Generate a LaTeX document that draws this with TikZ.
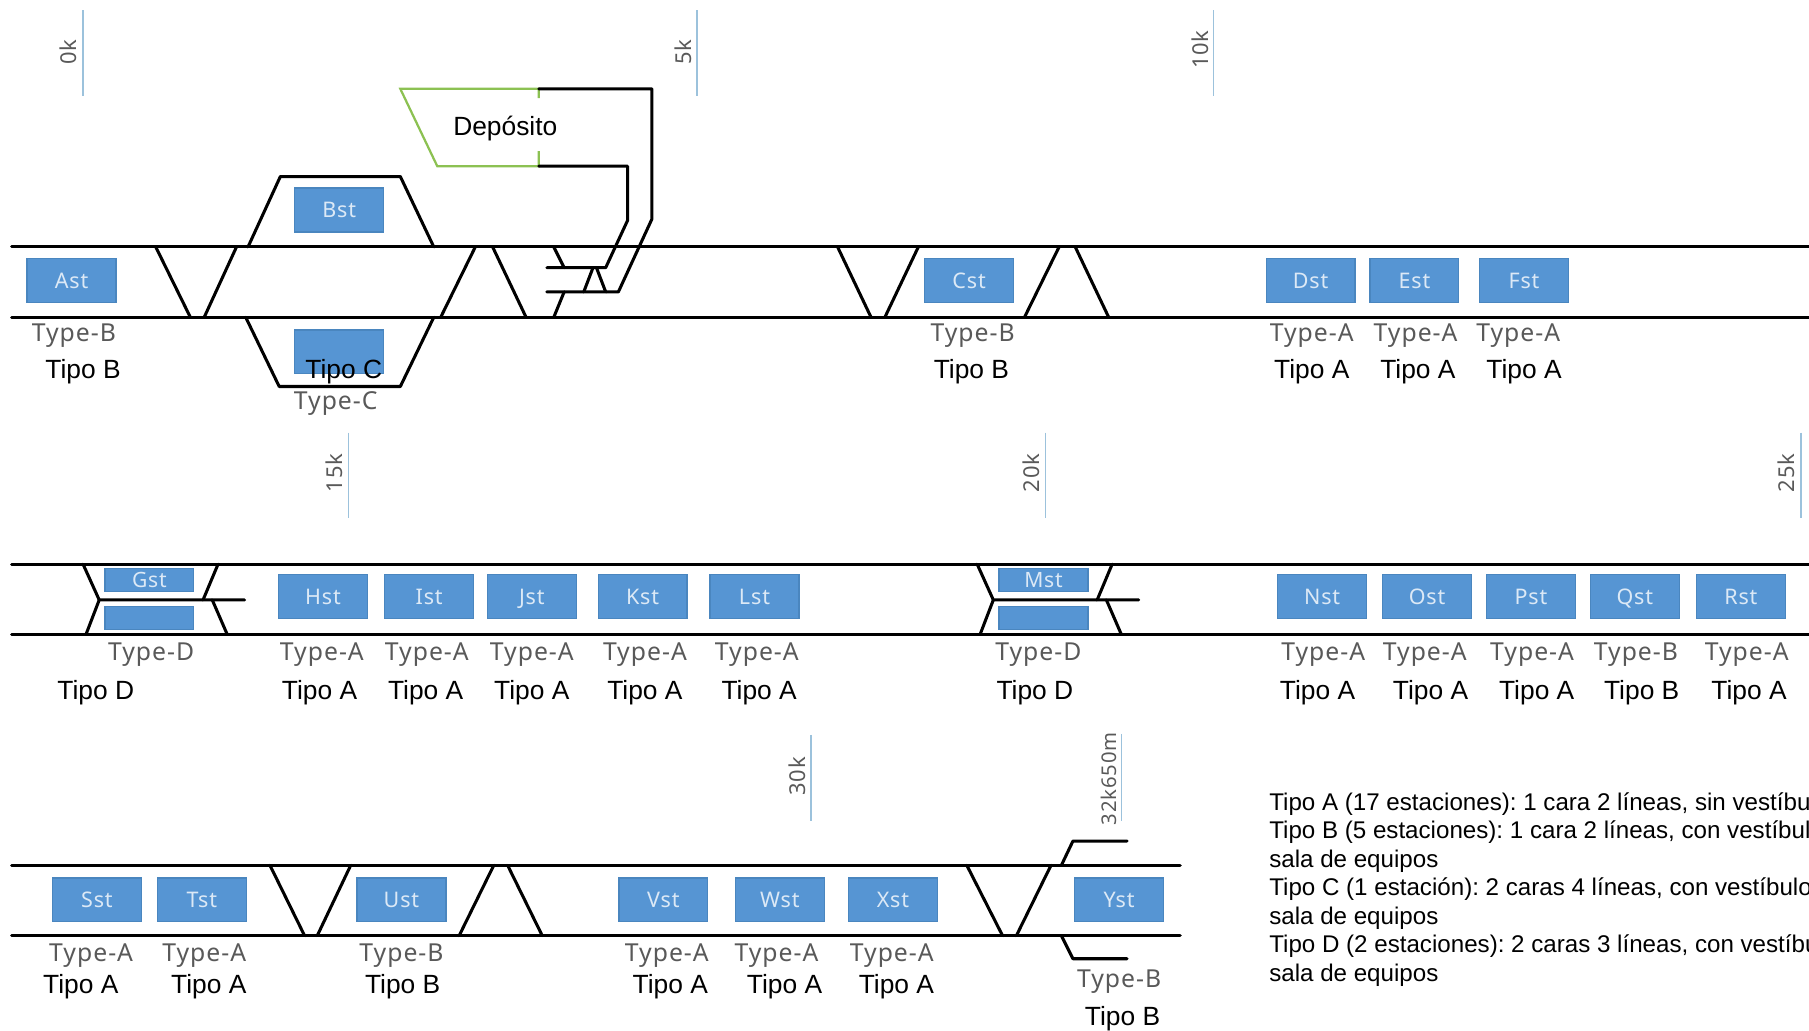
\documentclass[tikz,border=0pt]{standalone}
\usepackage{fontspec}
\setmainfont{Liberation Sans}
\newfontfamily\typefont[LetterSpace=4]{Noto Sans}
\usepackage{xcolor}
\usepackage{tikz}
\definecolor{stationblue}{HTML}{5695D3}
\definecolor{stationedge}{HTML}{4A86BF}
\definecolor{stationtext}{HTML}{DCE9F6}
\definecolor{kmblue}{HTML}{9CC2DC}
\definecolor{typegrey}{HTML}{595959}
\definecolor{depotgreen}{HTML}{8CC152}

\begin{document}
\begin{tikzpicture}[
    x=0.01cm, y=-0.01cm,
    station/.style={rectangle, draw=stationedge, fill=stationblue, minimum width=0.77cm,
        minimum height=0.38cm, inner sep=0pt, line width=0.3pt, text=stationtext,
        text height=1.5mm, text depth=0.16mm,
        font=\typefont\fontsize{5.3}{6}\selectfont},
    halfbox/.style={rectangle, draw=stationedge, fill=stationblue, minimum width=0.77cm,
        minimum height=0.2cm, inner sep=0pt, line width=0.3pt, text=stationtext,
        text height=1.5mm, text depth=0.16mm,
        font=\typefont\fontsize{5.2}{6}\selectfont},
    track/.style={line width=0.75pt, black, line cap=round, line join=round},
    depot/.style={line width=0.55pt, depotgreen},
    tick/.style={line width=0.35pt, kmblue},
    kmlbl/.style={rotate=90, text=typegrey, inner sep=0pt, font=\typefont\fontsize{5.4}{6}\selectfont},
    typelbl/.style={text=typegrey, inner sep=0pt, yshift=-0.02cm, font=\typefont\fontsize{6.1}{7}\selectfont},
    tipolbl/.style={text=black, inner sep=0pt, yshift=-0.02cm, font=\fontsize{6.5}{7}\selectfont}
]
    \useasboundingbox (0,0) rectangle (1568,893);

    % km marks
    \foreach \k/\x/\lx/\ya/\yb/\yc in {0k/72/59/9/83/45, 5k/604/592/9/83/45, 10k/1052/1040/9/83/43,
        15k/302/290/375/449/410, 20k/906/894/375/449/410, 25k/1561/1548/375/449/410,
        30k/703/691/637/712/673} {
        \draw[tick] (\x,\ya) -- (\x,\yb);
        \node[kmlbl] (km\k) at (\lx,\yc) {\k};
    }
    \draw[tick] (972,636) -- (972,712);
    \node[kmlbl, font=\typefont\fontsize{5}{6}\selectfont] (kmend) at (961,675) {32k650m};

    % row 1: rails
    \draw[track] (10,214) -- (1568,214);
    \draw[track] (10,275) -- (1568,275);

    % row 1: crossovers and loops
    \draw[track] (135,214) -- (165,275);
    \draw[track] (177,275) -- (205,214);
    \draw[track] (215,214) -- (243,153) -- (347,153) -- (376,214);
    \draw[track] (213,275) -- (242,335) -- (347,335) -- (376,275);
    \draw[track] (382,275) -- (412,214);
    \draw[track] (427,214) -- (456,275);
    \draw[track] (726,214) -- (755,275);
    \draw[track] (767,275) -- (796,214);
    \draw[track] (888,275) -- (918,214);
    \draw[track] (932,214) -- (961,275);

    % depot and its lead tracks
    \draw[depot] (467,85) -- (467,77) -- (347,77) -- (379,144) -- (467,144) -- (467,131);
    \draw[track] (467,77) -- (565,77) -- (565,190) -- (536,253) -- (474,253);
    \draw[track] (467,144) -- (544,144) -- (544,191) -- (525,232) -- (474,232);
    \draw[track] (480,214) -- (489,232);
    \draw[track] (489,253) -- (480,275);
    \draw[track] (506,253) -- (514,232);
    \draw[track] (517,232) -- (525,253);
    \node[tipolbl] (deposito) at (438,109) {Depósito};

    % row 1: stations
    \foreach \s/\x/\y in {Ast/62/243, Bst/294/182, Cst/840/243, Dst/1136/243, Est/1226/243, Fst/1321/243}
        \node[station] (\s) at (\x,\y) {\s};
    \node[station] (BstLow) at (294,305) {};

    % row 1: labels
    \foreach \t/\x/\y in {B/64/289, C/291/348, B/843/289, A/1137/289, A/1227/289, A/1316/289}
        \node[typelbl] (ty\x) at (\x,\y) {Type-\t};
    \foreach \t/\x in {B/72, C/298, B/842, A/1137, A/1229, A/1321}
        \node[tipolbl] (ti\x) at (\x,320) {Tipo \t};

    % row 2: rails
    \draw[track] (10,489) -- (1568,489);
    \draw[track] (10,550) -- (1568,550);

    % row 2: two type D stations
    \foreach \dx/\s/\low in {0/Gst/GstLow, 775/Mst/MstLow} {
        \begin{scope}[xshift=\dx*0.01cm]
            \draw[track] (72,489) -- (86,520) -- (212,520);
            \draw[track] (86,520) -- (74.5,550);
            \draw[track] (189,489) -- (176,520);
            \draw[track] (184,520) -- (197,550);
            \node[halfbox] (\s) at (129.5,502.5) {\s};
            \node[halfbox] (\low) at (129.5,535.5) {};
        \end{scope}
    }

    % row 2: stations
    \foreach \s/\x in {Hst/280, Ist/372, Jst/461, Kst/557, Lst/654, Nst/1146, Ost/1237, Pst/1327, Qst/1417, Rst/1509}
        \node[station] (\s) at (\x,517) {\s};

    % row 2: labels
    \foreach \t/\x in {D/131, A/279, A/370, A/461, A/559, A/656, D/900, A/1147, A/1235, A/1328, B/1418, A/1514}
        \node[typelbl] (ty\x) at (\x,565) {Type-\t};
    \foreach \t/\x in {D/83, A/277, A/369, A/461, A/559, A/658, D/897, A/1142, A/1240, A/1332, B/1423, A/1516}
        \node[tipolbl] (ti\x) at (\x,598) {Tipo \t};

    % row 3: rails
    \draw[track] (10,750) -- (1023,750);
    \draw[track] (10,811) -- (1023,811);

    % row 3: crossovers and end stubs
    \draw[track] (234,750) -- (264,811);
    \draw[track] (275,811) -- (304,750);
    \draw[track] (398,811) -- (428,750);
    \draw[track] (440,750) -- (470,811);
    \draw[track] (838,750) -- (869,811);
    \draw[track] (881,811) -- (911,750);
    \draw[track] (920,750) -- (930,729) -- (977,729);
    \draw[track] (920,811) -- (930,831) -- (977,831);

    % row 3: stations
    \foreach \s/\x in {Sst/84, Tst/175, Ust/348, Vst/575, Wst/676, Xst/774, Yst/970}
        \node[station] (\s) at (\x,780) {\s};

    % row 3: labels
    \foreach \t/\x/\y in {A/79/826, A/177/826, B/348/826, A/578/826, A/673/826, A/773/826, B/970/849}
        \node[typelbl] (ty\x) at (\x,\y) {Type-\t};
    \foreach \t/\x/\y in {A/70/853, A/181/853, B/349/853, A/581/853, A/680/853, A/777/853, B/973/881}
        \node[tipolbl] (ti\x) at (\x,\y) {Tipo \t};

    % legend
    \node[anchor=west, align=left, inner sep=0pt, font=\frenchspacing\fontsize{5.95}{7.02}\selectfont] (legend) at (1099.5,771) {%
        Tipo A (17 estaciones): 1 cara 2 líneas, sin vestíbul\\
        Tipo B (5 estaciones): 1 cara 2 líneas, con vestíbul\\
        sala de equipos\\
        Tipo C (1 estación): 2 caras 4 líneas, con vestíbulo\\
        sala de equipos\\
        Tipo D (2 estaciones): 2 caras 3 líneas, con vestíbu\\
        sala de equipos};
\end{tikzpicture}
\end{document}
